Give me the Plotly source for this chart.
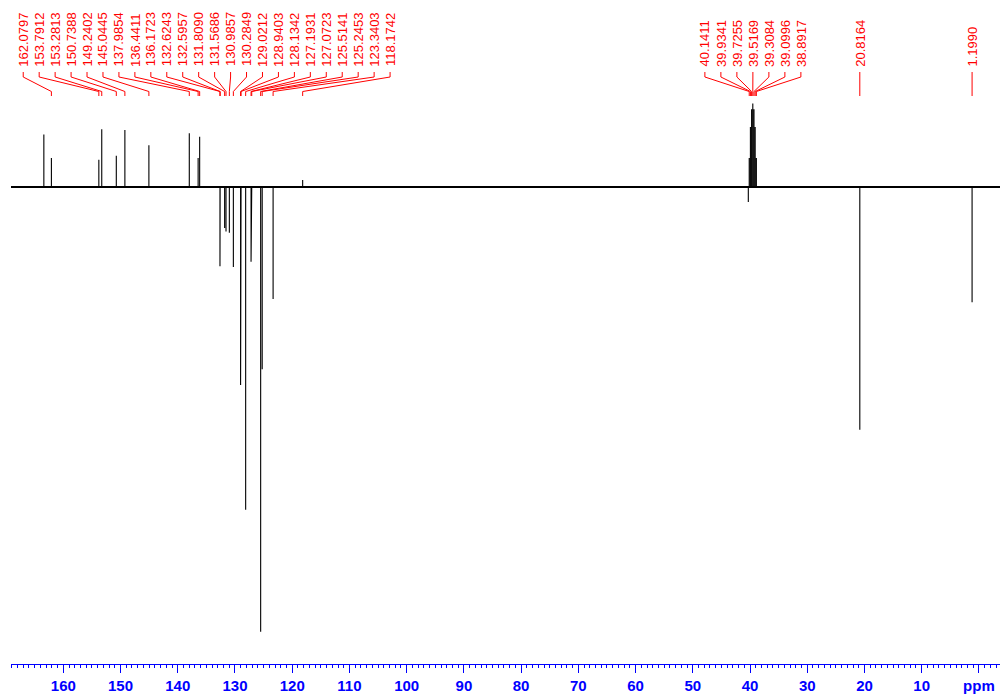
import plotly.graph_objects as go

# ---------------- data (ppm, relative intensity) ----------------
aromatic_ppm = [162.0797, 153.7912, 153.2813, 150.7388, 149.2402, 145.0445,
                137.9854, 136.4411, 136.1723, 132.6243, 132.5957, 131.8090,
                131.5686, 130.9857, 130.2849, 129.0212, 128.9403, 128.1342,
                127.1931, 127.0723, 125.5141, 125.2453, 123.3403, 118.1742]
aromatic_int = [6.5, 6.1, 13.0, 7.0, 12.8, 9.4,
                12.1, 6.5, 11.3, -17.8, -12.0, -9.2,
                -10.0, -10.3, -18.0, -44.5, -34.9, -72.6,
                -16.8, -12.0, -100.0, -41.0, -25.2, 1.6]

solvent_ppm = [40.1411, 39.9341, 39.7255, 39.5169, 39.3084, 39.0996, 38.8917]
solvent_int = [6.5, 13.5, 17.5, 18.8, 17.5, 13.5, 6.5]

aliphatic_ppm = [20.8164, 1.1990]
aliphatic_int = [-54.6, -25.9]

unlabeled_ppm = [163.40, 40.30]
unlabeled_int = [11.8, -3.4]

tick_values = [160, 150, 140, 130, 120, 110, 100, 90, 80, 70, 60, 50, 40, 30, 20, 10, 0]
tick_labels = ["160", "150", "140", "130", "120", "110", "100", "90", "80", "70",
               "60", "50", "40", "30", "20", "10", "ppm"]

# ---------------- layout constants ----------------
W, H = 1000, 694
ML, MR, MT, MB = 11, 0, 0, 694 - 664
X_RANGE = [169.14, -3.68]
Y_RANGE = [-107.26, 42.05]
PLOT_H = H - MT - MB
PX_PER_PPM = (W - ML - MR) / (X_RANGE[0] - X_RANGE[1])


def paper_y(ypx):
    # ypx: pixel row in the 1000x694 window
    return (664 - ypx) / PLOT_H


Y_TEXT = paper_y(67.5)
Y_L1 = paper_y(72)
Y_L2 = paper_y(77)
Y_L3 = paper_y(91.5)
Y_L4 = paper_y(96)

RED = "#ff0000"
BLUE = "#0000ff"

# ---------------- spectrum as stick lines ----------------
all_ppm = aromatic_ppm + solvent_ppm + aliphatic_ppm + unlabeled_ppm
all_int = aromatic_int + solvent_int + aliphatic_int + unlabeled_int
pairs = sorted(zip(all_ppm, all_int), key=lambda t: -t[0])
xs, ys = [X_RANGE[0]], [0.0]
for p, h in pairs:
    xs += [p, p, p]
    ys += [0.0, h, 0.0]
xs.append(X_RANGE[1])
ys.append(0.0)

fig = go.Figure()
fig.add_trace(go.Scatter(x=[X_RANGE[0], X_RANGE[1]], y=[0, 0], mode="lines",
                         line=dict(color="black", width=2.2), hoverinfo="skip"))
fig.add_trace(go.Scatter(x=xs, y=ys, mode="lines",
                         line=dict(color="black", width=1.1), hoverinfo="skip"))

annotations = []
shapes = []


def add_label(label_x, peak_x, text, straight=False):
    annotations.append(dict(
        x=label_x, y=Y_TEXT, xref="x", yref="paper", text=text,
        textangle=-90, showarrow=False, xanchor="center", yanchor="bottom",
        font=dict(family="Liberation Sans, Arial", size=13, color=RED),
        borderpad=0))
    if straight:
        path = f"M {label_x},{Y_L1} L {label_x},{Y_L4}"
    else:
        path = (f"M {label_x},{Y_L1} L {label_x},{Y_L2} "
                f"L {peak_x},{Y_L3} L {peak_x},{Y_L4}")
    shapes.append(dict(type="path", xref="x", yref="paper", path=path,
                       line=dict(color=RED, width=1)))


def add_group(ppms, center, spacing_px):
    n = len(ppms)
    s = spacing_px / PX_PER_PPM
    for i, p in enumerate(ppms):
        lx = center + (n - 1) / 2 * s - i * s
        add_label(lx, p, f"{p:.4f}")


add_group(aromatic_ppm, 134.95, 15.95)
add_group(solvent_ppm, 39.50, 16.0)
for p in aliphatic_ppm:
    add_label(p, p, f"{p:.4f}", straight=True)

fig.update_layout(
    width=W, height=H,
    margin=dict(l=ML, r=MR, t=MT, b=MB, pad=0),
    paper_bgcolor="white", plot_bgcolor="white",
    showlegend=False,
    hovermode=False,
    annotations=annotations,
    shapes=shapes,
    xaxis=dict(
        range=X_RANGE, showgrid=False, zeroline=False,
        showline=True, linecolor=BLUE, linewidth=1,
        ticks="outside", ticklen=8, tickwidth=1, tickcolor=BLUE,
        tickvals=tick_values, ticktext=tick_labels,
        tickfont=dict(family="Liberation Sans, Arial", size=15, color=BLUE, weight="bold"),
        minor=dict(dtick=1, tick0=0, ticks="outside", ticklen=3, tickcolor=BLUE, tickwidth=1),
    ),
    yaxis=dict(range=Y_RANGE, visible=False, showgrid=False, zeroline=False),
)

# place the figure at the window's top-left corner (no default page margin)
fig.write_html("out.html",
               config={"displayModeBar": False, "staticPlot": True},
               post_script="document.body.style.margin='0';document.body.style.overflow='hidden';")
